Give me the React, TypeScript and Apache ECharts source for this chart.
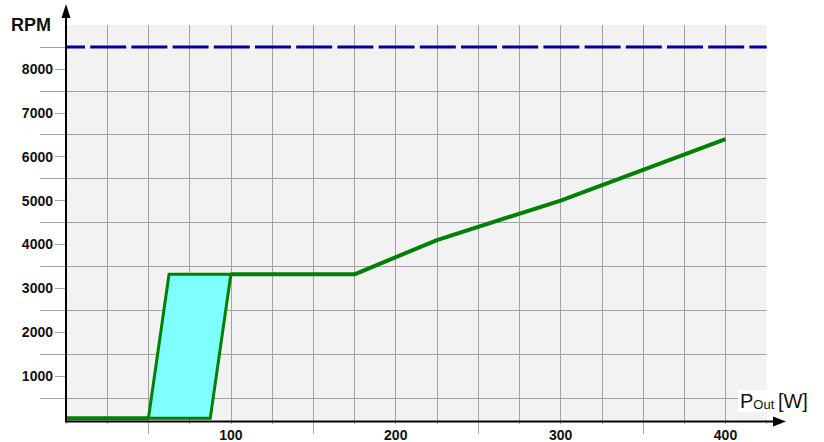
import React, { useEffect, useRef } from "react";
import * as echarts from "echarts";

// ---- data ----
const X_LABELS = [100, 200, 300, 400];
const Y_LABELS = [1000, 2000, 3000, 4000, 5000, 6000, 7000, 8000];
const Y_HALF_TICKS = [500, 1500, 2500, 3500, 4500, 5500, 6500, 7500, 8500];
const X_LONG_TICKS = [50, 150, 250, 350];

const LIMIT_X = [0, 425];
const LIMIT_RPM = 8500;

const BASE_X = [0, 50];
const BASE_RPM = [40, 40];

const BAND_X = [50, 62.5, 100, 87.5];
const BAND_RPM = [40, 3320, 3320, 40];

const CURVE_X = [100, 175, 225, 300, 400];
const CURVE_RPM = [3320, 3320, 4100, 5000, 6400];

const FONT = '"Liberation Sans", Arial, sans-serif';
const GRID_COLOR = "#a3a3a3";
const GREEN = "#008000";

export default function App() {
  const ref = useRef<HTMLDivElement>(null);

  useEffect(() => {
    if (!ref.current) return;
    const chart = echarts.init(ref.current, null, { renderer: "svg" });
    const option: any = {
      animation: false,
      backgroundColor: "#ffffff",
      grid: {
        left: 66,
        right: 57.3,
        top: 25,
        bottom: 21,
        show: true,
        backgroundColor: "#f2f2f2",
        borderWidth: 0,
      },
      xAxis: [
        {
          type: "value",
          min: 0,
          max: 425,
          interval: 25,
          axisLine: { show: false },
          axisTick: { show: true, length: 4, lineStyle: { color: GRID_COLOR } },
          axisLabel: {
            formatter: (v: number) => (X_LABELS.includes(v) ? String(v) : ""),
            fontFamily: FONT,
            fontWeight: "bold",
            fontSize: 14,
            color: "#111",
            margin: 8,
          },
          splitLine: { show: true, showMaxLine: false, lineStyle: { color: GRID_COLOR, width: 1 } },
        },
        {
          type: "value",
          min: 0,
          max: 425,
          position: "bottom",
          axisLine: { show: false },
          axisTick: { show: true, length: 14, customValues: X_LONG_TICKS, lineStyle: { color: GRID_COLOR } },
          axisLabel: { show: false },
          splitLine: { show: false },
        },
      ],
      yAxis: [
        {
          type: "value",
          min: 0,
          max: 9000,
          interval: 500,
          axisLine: { show: false },
          axisTick: { show: true, length: 26, customValues: Y_HALF_TICKS, lineStyle: { color: GRID_COLOR } },
          axisLabel: {
            formatter: (v: number) => (Y_LABELS.includes(v) ? String(v) : ""),
            fontFamily: FONT,
            fontWeight: "bold",
            fontSize: 14,
            color: "#111",
            margin: 13,
          },
          splitLine: { show: true, showMaxLine: false, lineStyle: { color: GRID_COLOR, width: 1 } },
        },
        {
          type: "value",
          min: 0,
          max: 9000,
          interval: 1000,
          position: "left",
          axisLine: { show: false },
          axisTick: { show: true, length: 11, customValues: Y_LABELS, lineStyle: { color: GRID_COLOR } },
          axisLabel: { show: false },
          splitLine: { show: false },
        },
      ],
      series: [
        {
          type: "line",
          data: LIMIT_X.map((x) => [x, LIMIT_RPM]),
          symbol: "none",
          lineStyle: { color: "#000099", width: 3, type: [36, 5.2], dashOffset: 17 },
          z: 3,
          silent: true,
        },
        {
          type: "custom",
          coordinateSystem: "cartesian2d",
          data: [[BAND_X[0], BAND_RPM[0]]],
          renderItem: (_params: any, api: any) => ({
            type: "polygon",
            shape: { points: BAND_X.map((x, i) => api.coord([x, BAND_RPM[i]])) },
            style: { fill: "#80ffff", stroke: GREEN, lineWidth: 3, lineJoin: "miter" },
          }),
          z: 4,
          silent: true,
        },
        {
          type: "line",
          data: BASE_X.map((x, i) => [x, BASE_RPM[i]]),
          symbol: "none",
          lineStyle: { color: GREEN, width: 4 },
          z: 5,
          silent: true,
        },
        {
          type: "line",
          data: CURVE_X.map((x, i) => [x, CURVE_RPM[i]]),
          symbol: "none",
          lineStyle: { color: GREEN, width: 4 },
          z: 5,
          silent: true,
        },
      ],
      graphic: [
        { type: "line", z: 10, shape: { x1: 66, y1: 422, x2: 66, y2: 14 }, style: { stroke: "#000", lineWidth: 2 } },
        { type: "polygon", z: 10, shape: { points: [[66, 4], [61.5, 18], [70.5, 18]] }, style: { fill: "#000" } },
        { type: "line", z: 10, shape: { x1: 65, y1: 421.5, x2: 776, y2: 421.5 }, style: { stroke: "#000", lineWidth: 2 } },
        { type: "polygon", z: 10, shape: { points: [[786, 421.5], [773, 416.5], [773, 426.5]] }, style: { fill: "#000" } },
        {
          type: "text",
          z: 10,
          x: 11,
          y: 25,
          style: { text: "RPM", font: `bold 18px ${FONT}`, fill: "#111", verticalAlign: "middle" },
        },
        {
          type: "text",
          z: 10,
          x: 738,
          y: 401,
          style: {
            text: "{p|P}{s|Out }{p|[W]}",
            rich: {
              p: { fontSize: 20, fontFamily: FONT, fill: "#111" },
              s: { fontSize: 13, fontFamily: FONT, fill: "#111", verticalAlign: "bottom", padding: [6, 0, 0, 0] },
            },
            verticalAlign: "middle",
            backgroundColor: "#fff",
            padding: [1, 2],
          },
        },
      ],
    };
    chart.setOption(option);
    return () => chart.dispose();
  }, []);

  return (
    <div
      ref={ref}
      style={{ position: "fixed", left: 0, top: 0, width: 824, height: 442 }}
    />
  );
}
